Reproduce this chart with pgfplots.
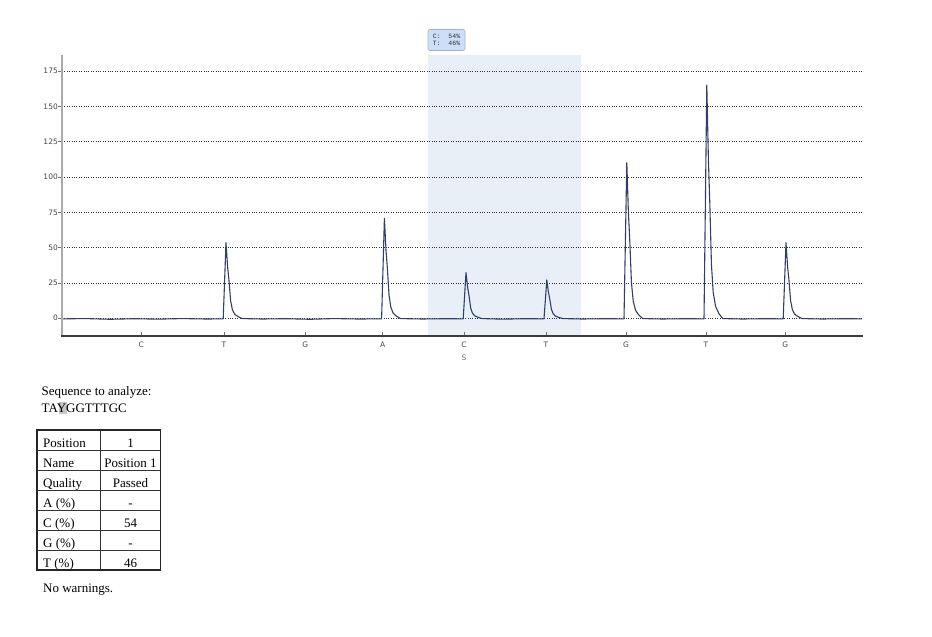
\documentclass[border=0pt]{standalone}
\usepackage{pgfplots}
\pgfplotsset{compat=1.18}
\usepackage{fontspec}
\setmainfont{Liberation Serif}
\newfontfamily\dv{DejaVu Sans}
\newfontfamily\mono{Liberation Mono}
\definecolor{trace}{RGB}{45,64,108}
\definecolor{shadecol}{RGB}{233,239,246}
\definecolor{boxfill}{RGB}{205,222,246}
\definecolor{boxdraw}{RGB}{150,180,222}
\definecolor{ticktxt}{RGB}{70,70,70}
\definecolor{yaxcol}{RGB}{170,170,170}
\definecolor{xaxcol}{RGB}{60,60,60}
\begin{document}
\begin{tikzpicture}
\path (0pt,0pt) rectangle (932pt,637pt);
\begin{axis}[
  set layers,
  at={(62pt,300.5pt)}, anchor=south west,
  scale only axis, width=800pt, height=281.5pt,
  xmin=0, xmax=10, ymin=-13, ymax=186.5,
  axis x line*=bottom, axis y line*=left,
  axis line style={draw=none},
  tick align=inside,
  major tick length=4pt,
  xtick={0.99,2.025,3.04,4.01,5.025,6.05,7.05,8.05,9.04},
  xticklabels={C,T,G,A,C,T,G,T,G},
  ytick={0,25,50,75,100,125,150,175},
  xtick style={draw=black!55, line width=0.7pt},
  ytick style={draw=black!55, line width=0.7pt, xshift=-4pt},
  /pgf/number format/assume math mode=true,
  ticklabel style={font=\dv\fontsize{7.5}{9}\selectfont, text=ticktxt},
  yticklabel style={xshift=-3pt, inner sep=1pt},
  xticklabel style={inner sep=1pt, yshift=-4pt},
  ymajorgrids,
  major grid style={draw=black!80, line width=0.7pt, dash pattern=on 0.8pt off 1.6pt},
  clip=false,
]
\addplot[trace, line width=1.1pt, line join=round] coordinates {
(0,-0.5) (0.3,-0.3) (0.6,-0.8) (0.9,-0.4) (1.2,-0.7) (1.5,-0.3) (1.8,-0.6)
(2.015,-0.5) (2.05,53.5) (2.07,36.4) (2.087,26.8) (2.108,12.3) (2.13,5.9) (2.16,2.7) (2.2,1.1) (2.25,-0.3)
(2.5,-0.6) (2.8,-0.4) (3.1,-0.8) (3.4,-0.3) (3.7,-0.6)
(3.995,-0.5) (4.03,70.8) (4.05,48.1) (4.067,35.4) (4.088,16.3) (4.11,7.8) (4.14,3.5) (4.18,1.4) (4.23,-0.3)
(4.5,-0.6) (4.8,-0.4)
(5.015,-0.5) (5.05,32.3) (5.07,22.0) (5.087,16.2) (5.108,7.4) (5.13,3.6) (5.16,1.6) (5.2,0.6) (5.25,-0.3)
(5.5,-0.7) (5.8,-0.4)
(6.025,-0.5) (6.06,27.1) (6.08,18.4) (6.097,13.6) (6.118,6.2) (6.14,3.0) (6.17,1.4) (6.21,0.5) (6.26,-0.3)
(6.5,-0.6) (6.8,-0.4)
(7.025,-0.5) (7.06,110.2) (7.08,74.9) (7.097,55.1) (7.118,25.3) (7.14,12.1) (7.17,5.5) (7.21,2.2) (7.26,-0.3)
(7.5,-0.6) (7.8,-0.4)
(8.025,-0.5) (8.06,165.2) (8.08,112.3) (8.097,82.6) (8.118,38.0) (8.14,18.2) (8.17,8.3) (8.21,3.3) (8.26,-0.3)
(8.5,-0.6) (8.8,-0.4)
(9.015,-0.5) (9.05,53.5) (9.07,36.4) (9.087,26.8) (9.108,12.3) (9.13,5.9) (9.16,2.7) (9.2,1.1) (9.25,-0.3)
(9.5,-0.6) (9.8,-0.4) (10,-0.5)
};
\begin{pgfonlayer}{axis background}
\fill[fill=shadecol] (axis cs:4.58,-13) rectangle (axis cs:6.49,186.5);
\end{pgfonlayer}
\end{axis}
% axis lines
\draw[yaxcol, line width=1.8pt] (62pt,300.5pt) -- (62pt,582pt);
\draw[xaxcol, line width=2pt] (61pt,300.5pt) -- (862.5pt,300.5pt);
% S label under C
\node[font=\dv\fontsize{7.5}{9}\selectfont, text=black!55] at (464pt,279pt) {S};
% percent box
\node[draw=boxdraw, fill=boxfill, rounded corners=2pt, line width=0.6pt, inner sep=1.5pt, align=left,
      font=\mono\fontsize{6.5}{7.5}\selectfont, text=black!80, minimum width=37pt, minimum height=21pt]
      at (446.5pt,597pt) {C:\ \ 54\%\\T:\ \ 46\%};
% sequence text
\fill[black!22] (59.3pt,223pt) rectangle (67.3pt,234.5pt);
\node[anchor=base west, inner sep=0pt, font=\fontsize{13}{15}\selectfont] at (41.5pt,241pt) {Sequence to analyze:};
\node[anchor=base west, inner sep=0pt, font=\fontsize{13}{15}\selectfont] at (41.5pt,224.3pt) {TAYGGTTTGC};
% table
\begin{scope}[font=\fontsize{13}{15}\selectfont, x=1pt, y=1pt]
\foreach \i/\a/\b in {0/Position/1, 1/Name/Position 1, 2/Quality/Passed, 3/A (\%)/-, 4/C (\%)/54, 5/G (\%)/-, 6/T (\%)/46}{
  \node[anchor=base west, inner sep=0pt] at (43,207-17.5-20*\i) {\a};
  \node[anchor=base, inner sep=0pt] at (130.5,207-17.5-20*\i) {\b};
}
\foreach \i in {1,...,6}{\draw[black!80, line width=0.8pt] (37,207-20*\i) -- (160.5,207-20*\i);}
\draw[black!80, line width=0.8pt] (100.5,207) -- (100.5,67);
\draw[black!85, line width=1.2pt] (37,67) rectangle (160.5,207);
\node[anchor=base west, inner sep=0pt] at (43,44.5) {No warnings.};
\end{scope}
\end{tikzpicture}
\end{document}
